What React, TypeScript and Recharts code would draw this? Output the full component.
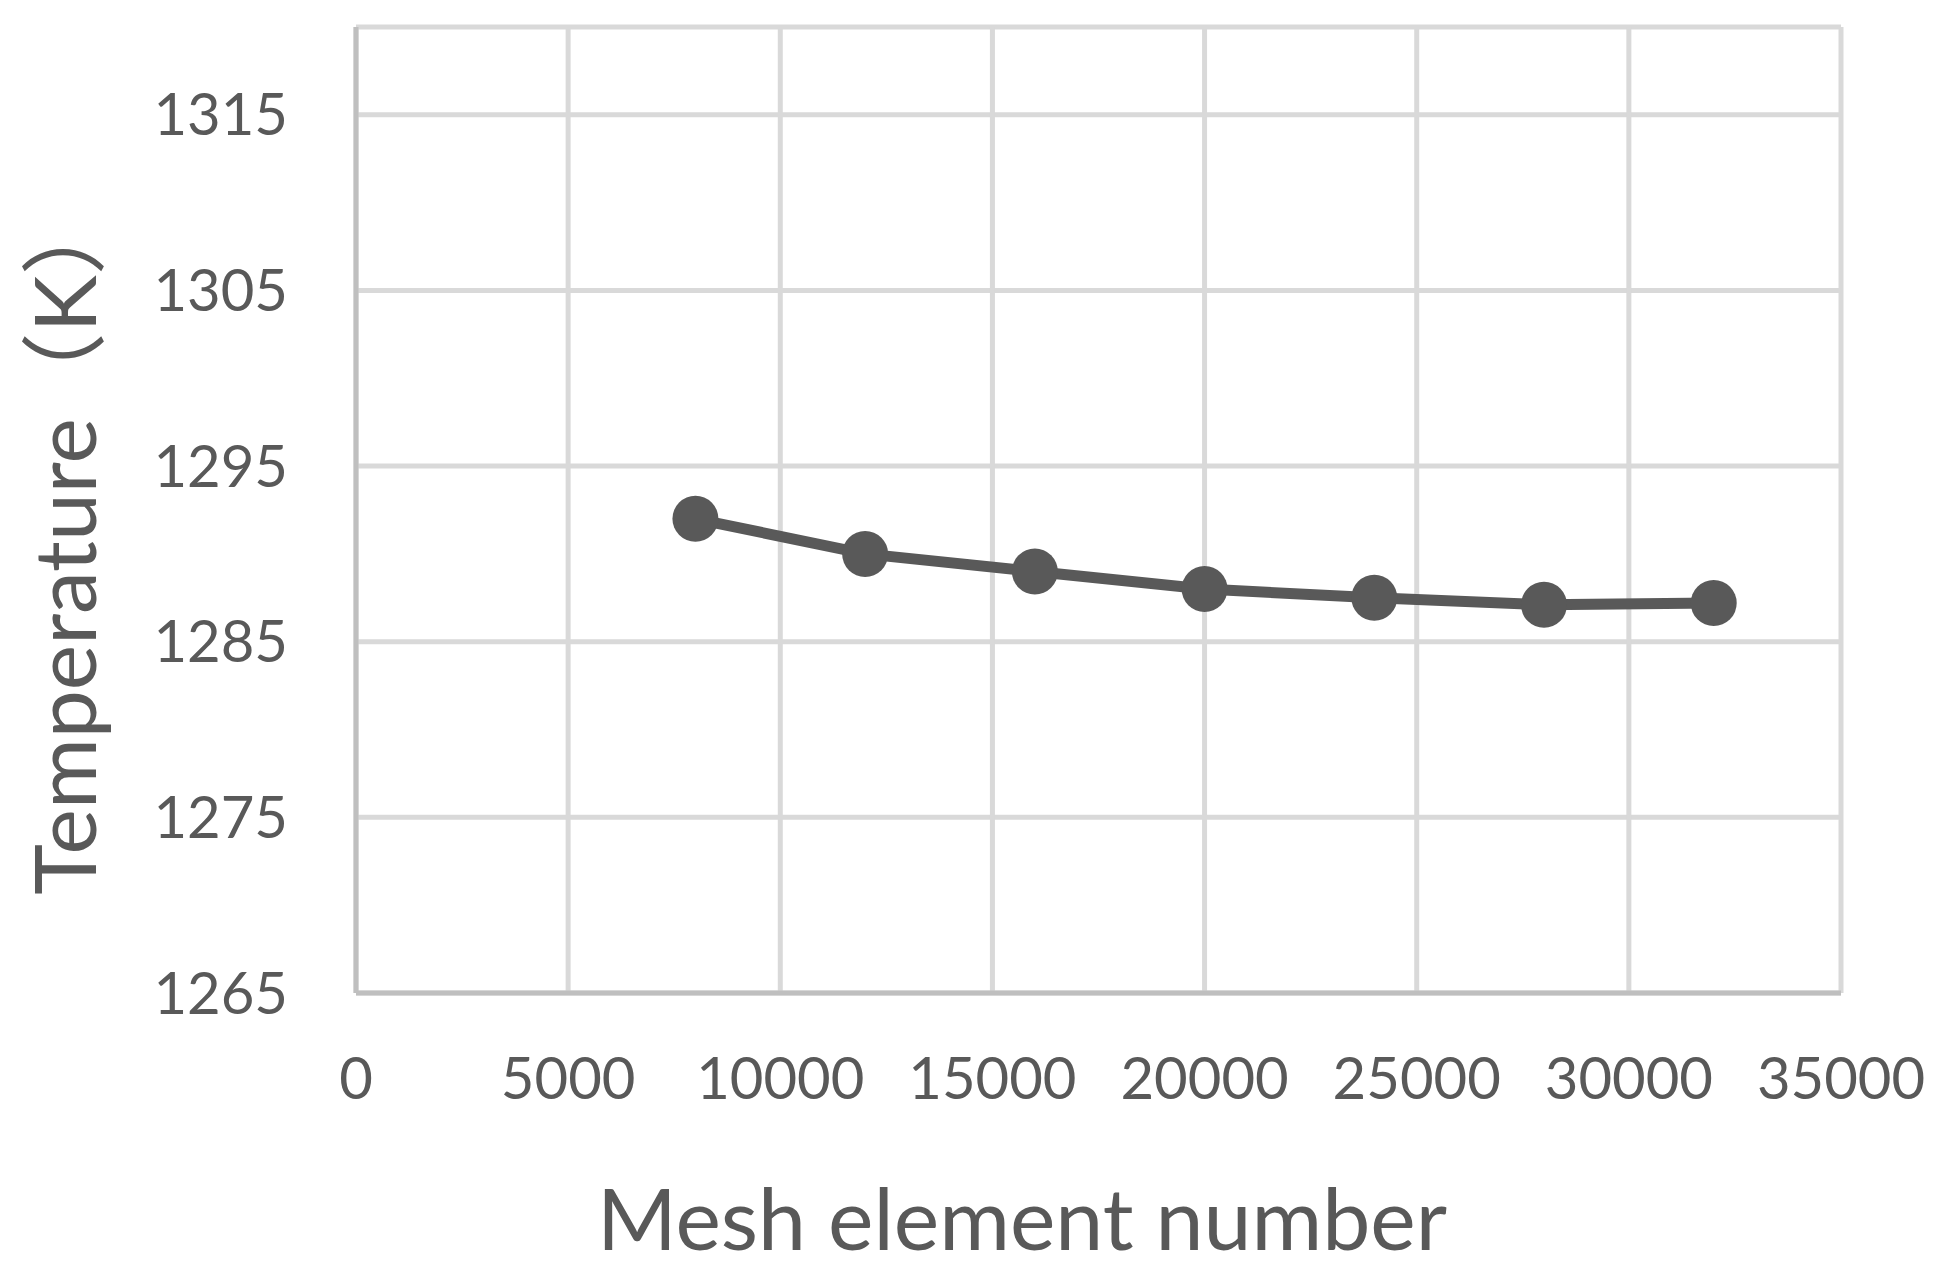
import { CartesianGrid, Label, Line, LineChart, XAxis, YAxis } from "recharts";

const meshCounts = [8000, 12000, 16000, 20000, 24000, 28000, 32000];
const temperatures = [1292.0, 1290.0, 1289.0, 1288.0, 1287.5, 1287.1, 1287.2];
const xTicks = [0, 5000, 10000, 15000, 20000, 25000, 30000, 35000];
const yTicks = [1265, 1275, 1285, 1295, 1305, 1315];

const INK = "#595959";
const GRID = "#d9d9d9";
const AXIS = "#bfbfbf";
const FONT = "Lato, 'Noto Sans CJK SC', sans-serif";

const data = meshCounts.map((m, i) => ({ mesh: m, temp: temperatures[i] }));

export default function App() {
  return (
    <div style={{ position: "absolute", left: 0, top: 0, background: "#fff" }}>
      <LineChart
        width={1945}
        height={1271}
        data={data}
        margin={{ top: 27, right: 104, left: 0, bottom: 0 }}
      >
        <CartesianGrid stroke={GRID} strokeWidth={5} />
        <XAxis
          dataKey="mesh"
          type="number"
          domain={[0, 35000]}
          ticks={xTicks}
          height={278}
          tickLine={false}
          tickSize={0}
          tickMargin={65}
          axisLine={{ stroke: AXIS, strokeWidth: 5 }}
          tick={{ fill: INK, fontSize: 58, fontFamily: FONT }}
          interval={0}
        >
          <Label
            content={({ viewBox }: any) => (
              <text
                x={1022}
                y={viewBox.y + 257}
                textAnchor="middle"
                fill={INK}
                fontSize={86}
                fontFamily={FONT}
              >
                Mesh element number
              </text>
            )}
          />
        </XAxis>
        <YAxis
          type="number"
          domain={[1265, 1320]}
          ticks={yTicks}
          width={356}
          tickLine={false}
          tickSize={0}
          tickMargin={68}
          axisLine={{ stroke: AXIS, strokeWidth: 5 }}
          tick={{ fill: INK, fontSize: 58, fontFamily: FONT }}
          interval={0}
        >
          <Label
            content={({ viewBox }: any) => (
              <text
                x={96}
                y={viewBox.y + 515}
                transform={`rotate(-90, 96, ${viewBox.y + 515})`}
                textAnchor="middle"
                fill={INK}
                fontSize={86}
                fontFamily={FONT}
              >
                Temperature（K）
              </text>
            )}
          />
        </YAxis>
        <Line
          dataKey="temp"
          stroke={INK}
          strokeWidth={11}
          dot={{ r: 23, fill: INK, stroke: INK, strokeWidth: 0 }}
          activeDot={false}
          isAnimationActive={false}
        />
      </LineChart>
    </div>
  );
}
